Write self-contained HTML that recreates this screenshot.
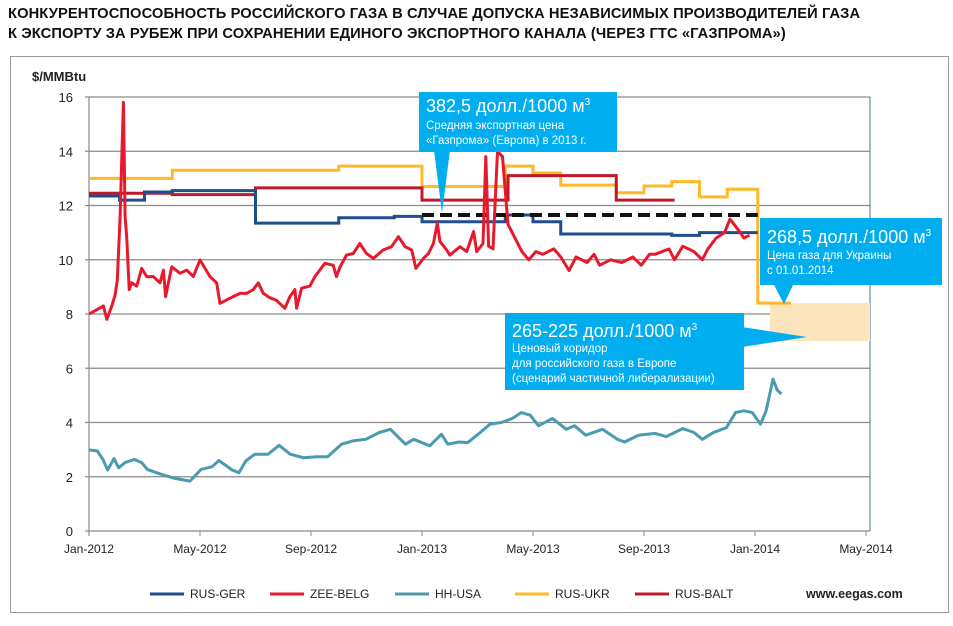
<!DOCTYPE html>
<html><head><meta charset="utf-8"><style>
body{margin:0;background:#fff;width:953px;height:626px;overflow:hidden;font-family:"Liberation Sans",sans-serif}
.t{position:absolute;left:8px;font-weight:bold;font-size:14.7px;color:#111;letter-spacing:0.1px}
</style></head><body>
<div class="t" style="top:6px">КОНКУРЕНТОСПОСОБНОСТЬ РОССИЙСКОГО ГАЗА В СЛУЧАЕ ДОПУСКА НЕЗАВИСИМЫХ ПРОИЗВОДИТЕЛЕЙ ГАЗА</div>
<div class="t" style="top:26px">К ЭКСПОРТУ ЗА РУБЕЖ ПРИ СОХРАНЕНИИ ЕДИНОГО ЭКСПОРТНОГО КАНАЛА (ЧЕРЕЗ ГТС «ГАЗПРОМА»)</div>
<svg id="c" width="953" height="626" style="position:absolute;left:0;top:0" font-family="Liberation Sans, sans-serif"></svg>
<script>
const yTicks=[0,2,4,6,8,10,12,14,16];
const xTickLabels=["Jan-2012","May-2012","Sep-2012","Jan-2013","May-2013","Sep-2013","Jan-2014","May-2014"];
const xTickMonths=[0,4,8,12,16,20,24,28];
const gerSteps=[[0,12.35],[1.1,12.2],[2,12.5],[3,12.55],[6,11.35],[9,11.55],[11,11.6],[12,11.4],[15,11.65],[16,11.4],[17,10.95],[21,10.9],[22,11.0]];
const gerEnd=24.1;
const ukrSteps=[[0,13.0],[3,13.3],[9,13.45],[12,12.7],[15,13.45],[16,13.2],[17,12.75],[19,12.47],[20,12.72],[21,12.88],[22,12.32],[23,12.6],[24.1,8.4]];
const ukrEnd=25.3;
const baltSteps=[[0,12.45],[3,12.4],[6,12.65],[12,12.2],[15.1,13.1],[19,12.2]];
const baltEnd=21.1;
const avgPrice=11.65, avgStart=12, avgEnd=24.1;
const zeeMonths=[0.01,0.52,0.64,0.82,0.94,1.02,1.12,1.24,1.3,1.36,1.45,1.54,1.72,1.9,2.08,2.32,2.56,2.68,2.76,2.86,2.98,3.28,3.52,3.76,4.0,4.36,4.6,4.72,4.96,5.2,5.44,5.68,5.92,6.1,6.28,6.52,6.76,7.06,7.24,7.42,7.48,7.66,7.96,8.14,8.5,8.8,8.92,9.05,9.28,9.52,9.76,10.0,10.25,10.6,10.9,11.15,11.39,11.63,11.78,12.05,12.23,12.41,12.55,12.65,12.89,13.0,13.37,13.61,13.86,13.97,14.2,14.3,14.4,14.56,14.72,14.9,15.1,15.35,15.6,15.85,16.1,16.35,16.75,17.0,17.3,17.55,17.95,18.2,18.4,18.8,19.2,19.6,19.9,20.2,20.4,20.9,21.1,21.4,21.8,22.1,22.3,22.6,22.9,23.1,23.4,23.6,23.8];
const zeeValues=[8.0,8.3,7.8,8.3,8.7,9.25,11.58,15.8,11.58,10.85,8.9,9.15,9.03,9.68,9.38,9.38,9.15,9.62,8.64,9.15,9.74,9.5,9.62,9.38,9.99,9.38,9.15,8.39,8.52,8.64,8.76,8.76,8.9,9.15,8.76,8.6,8.5,8.21,8.64,8.9,8.21,8.95,9.03,9.38,9.87,9.8,9.38,9.74,10.17,10.23,10.6,10.23,10.05,10.36,10.48,10.85,10.48,10.36,9.68,10.05,10.23,10.6,11.35,10.67,10.36,10.17,10.48,10.3,11.04,10.3,10.6,13.8,10.5,10.4,14.0,13.8,11.3,10.8,10.3,10.0,10.3,10.2,10.4,10.1,9.6,10.1,9.9,10.2,9.8,10.0,9.9,10.1,9.8,10.2,10.2,10.4,10.0,10.5,10.3,10.0,10.4,10.8,11.0,11.5,11.1,10.8,10.9];
const hhMonths=[0,0.3,0.5,0.67,0.9,1.07,1.3,1.63,1.9,2.1,2.6,3.1,3.64,4.04,4.44,4.68,5.16,5.4,5.65,5.97,6.45,6.85,7.25,7.74,8.2,8.6,9.1,9.5,9.98,10.46,10.86,11.4,11.7,12.28,12.7,12.93,13.33,13.65,14.05,14.45,14.86,15.26,15.58,15.9,16.2,16.7,17.2,17.5,17.9,18.5,19.04,19.3,19.8,20.4,20.8,21.4,21.8,22.1,22.5,22.97,23.3,23.6,23.9,24.2,24.4,24.65,24.8,24.95];
const hhValues=[2.99,2.95,2.64,2.25,2.67,2.33,2.52,2.64,2.52,2.27,2.09,1.94,1.84,2.27,2.37,2.6,2.25,2.15,2.58,2.83,2.83,3.16,2.83,2.7,2.74,2.74,3.2,3.32,3.38,3.63,3.75,3.2,3.38,3.14,3.57,3.2,3.28,3.26,3.59,3.94,4.0,4.15,4.37,4.27,3.88,4.15,3.75,3.88,3.53,3.75,3.38,3.28,3.53,3.6,3.48,3.78,3.63,3.38,3.63,3.81,4.37,4.43,4.37,3.94,4.43,5.6,5.2,5.05];
const legendNames=["RUS-GER","ZEE-BELG","HH-USA","RUS-UKR","RUS-BALT"];
const legendColors=["#1F4E8C","#E8192C","#4A9BB0","#FDB927","#C0182A"];

const svg=document.getElementById('c');
const NS='http://www.w3.org/2000/svg';
const X0=89,X1=870,PXM=27.75,Y0=531,PYU=27.125;
const xs=m=>X0+m*PXM, ys=v=>Y0-v*PYU;
function mk(t,a,p){const e=document.createElementNS(NS,t);for(const k in a)e.setAttribute(k,a[k]);(p||svg).appendChild(e);return e;}
let fr=mk('rect',{x:10.5,y:56.5,width:938,height:556,fill:'none',stroke:'#999','stroke-width':1});


let yl=mk('text',{x:32,y:81,'font-size':13,'font-weight':'bold',fill:'#222'});yl.textContent='$/MMBtu';


yTicks.forEach(v=>{
  const g=mk('line',{x1:X0-4,x2:X1,y1:ys(v),y2:ys(v),stroke:'#8a8a8a','stroke-width':1.2});
  
  
  const t=mk('text',{x:73,y:ys(v)+5,'font-size':13,'text-anchor':'end',fill:'#222'});t.textContent=v;
  
  
});
let ax=mk('line',{x1:X0,x2:X0,y1:ys(16),y2:Y0+4,stroke:'#8a8a8a','stroke-width':1.2});


let rb=mk('line',{x1:X1,x2:X1,y1:ys(16),y2:Y0,stroke:'#4a6fa5','stroke-width':1});


xTickMonths.forEach((m,i)=>{
  const tk=mk('line',{x1:xs(m),x2:xs(m),y1:Y0,y2:Y0+5,stroke:'#8a8a8a'});
  
  
  const t=mk('text',{x:xs(m),y:Y0+22,'font-size':12,'text-anchor':'middle',fill:'#222'});t.textContent=xTickLabels[i];
  
  
});
let cor=mk('rect',{x:770,y:ys(8.4),width:X1-770,height:ys(7.0)-ys(8.4),fill:'#FCE4BC'});


function stepPath(s,end){let d='';s.forEach((p,i)=>{const nx=i<s.length-1?s[i+1][0]:end;d+=(i?'L':'M')+xs(p[0])+' '+ys(p[1])+'L'+xs(nx)+' '+ys(p[1]);});return d;}
function linePath(ms,vs){return ms.map((m,i)=>(i?'L':'M')+xs(m).toFixed(1)+' '+ys(vs[i]).toFixed(1)).join('');}
let p;
p=mk('path',{d:stepPath(ukrSteps,ukrEnd),fill:'none',stroke:legendColors[3],'stroke-width':3});


p=mk('path',{d:stepPath(baltSteps,baltEnd),fill:'none',stroke:legendColors[4],'stroke-width':3});


p=mk('path',{d:stepPath(gerSteps,gerEnd),fill:'none',stroke:legendColors[0],'stroke-width':3});


p=mk('line',{x1:xs(avgStart),x2:xs(avgEnd),y1:ys(avgPrice),y2:ys(avgPrice),stroke:'#111','stroke-width':4,'stroke-dasharray':'12 6'});


p=mk('path',{d:linePath(zeeMonths,zeeValues),fill:'none',stroke:legendColors[1],'stroke-width':3,'stroke-linejoin':'round'});


p=mk('path',{d:linePath(hhMonths,hhValues),fill:'none',stroke:legendColors[2],'stroke-width':3,'stroke-linejoin':'round'});


const B='#00AEEF';
function callout(name,x,y,w,h,tri,lines){
  const g=mk('g',{});
  
  
  mk('polygon',{points:tri,fill:B},g);
  mk('rect',{x:x,y:y,width:w,height:h,fill:B},g);
  lines.forEach((l,i)=>{const t=mk('text',{x:x+7,y:y+l[1],'font-size':l[0],fill:'#fff'},g);t.innerHTML=l[2];});
}
callout('callout-avg-export-price',419,92,198,60,'434,150 450,150 442,213',[[18,20,'382,5 долл./1000 м<tspan dy="-7" font-size="10">3</tspan>'],[11.5,37,'Средняя экспортная цена'],[11.5,52,'«Газпрома» (Европа) в 2013 г.']]);
callout('callout-ukraine-price',760,218,182,67,'773,283 794,283 784,304',[[18,25,'268,5 долл./1000 м<tspan dy="-7" font-size="10">3</tspan>'],[11.5,41,'Цена газа для Украины'],[11.5,56,'с 01.01.2014']]);
callout('callout-price-corridor',505,313,239,77,'742,327 742,347 807,337',[[18,24,'265-225 долл./1000 м<tspan dy="-7" font-size="10">3</tspan>'],[11.5,39,'Ценовый коридор'],[11.5,54,'для российского газа в Европе'],[11.5,69,'(сценарий частичной либерализации)']]);
const lx=[150,270,395,515,635];
legendNames.forEach((n,i)=>{
  const g=mk('g',{});
  
  
  mk('line',{x1:lx[i],x2:lx[i]+34,y1:594,y2:594,stroke:legendColors[i],'stroke-width':3},g);
  const t=mk('text',{x:lx[i]+40,y:598,'font-size':12,fill:'#222'},g);t.textContent=n;
});
let w=mk('text',{x:806,y:598,'font-size':12.5,'font-weight':'bold',fill:'#222'});w.textContent='www.eegas.com';


</script>
</body></html>
